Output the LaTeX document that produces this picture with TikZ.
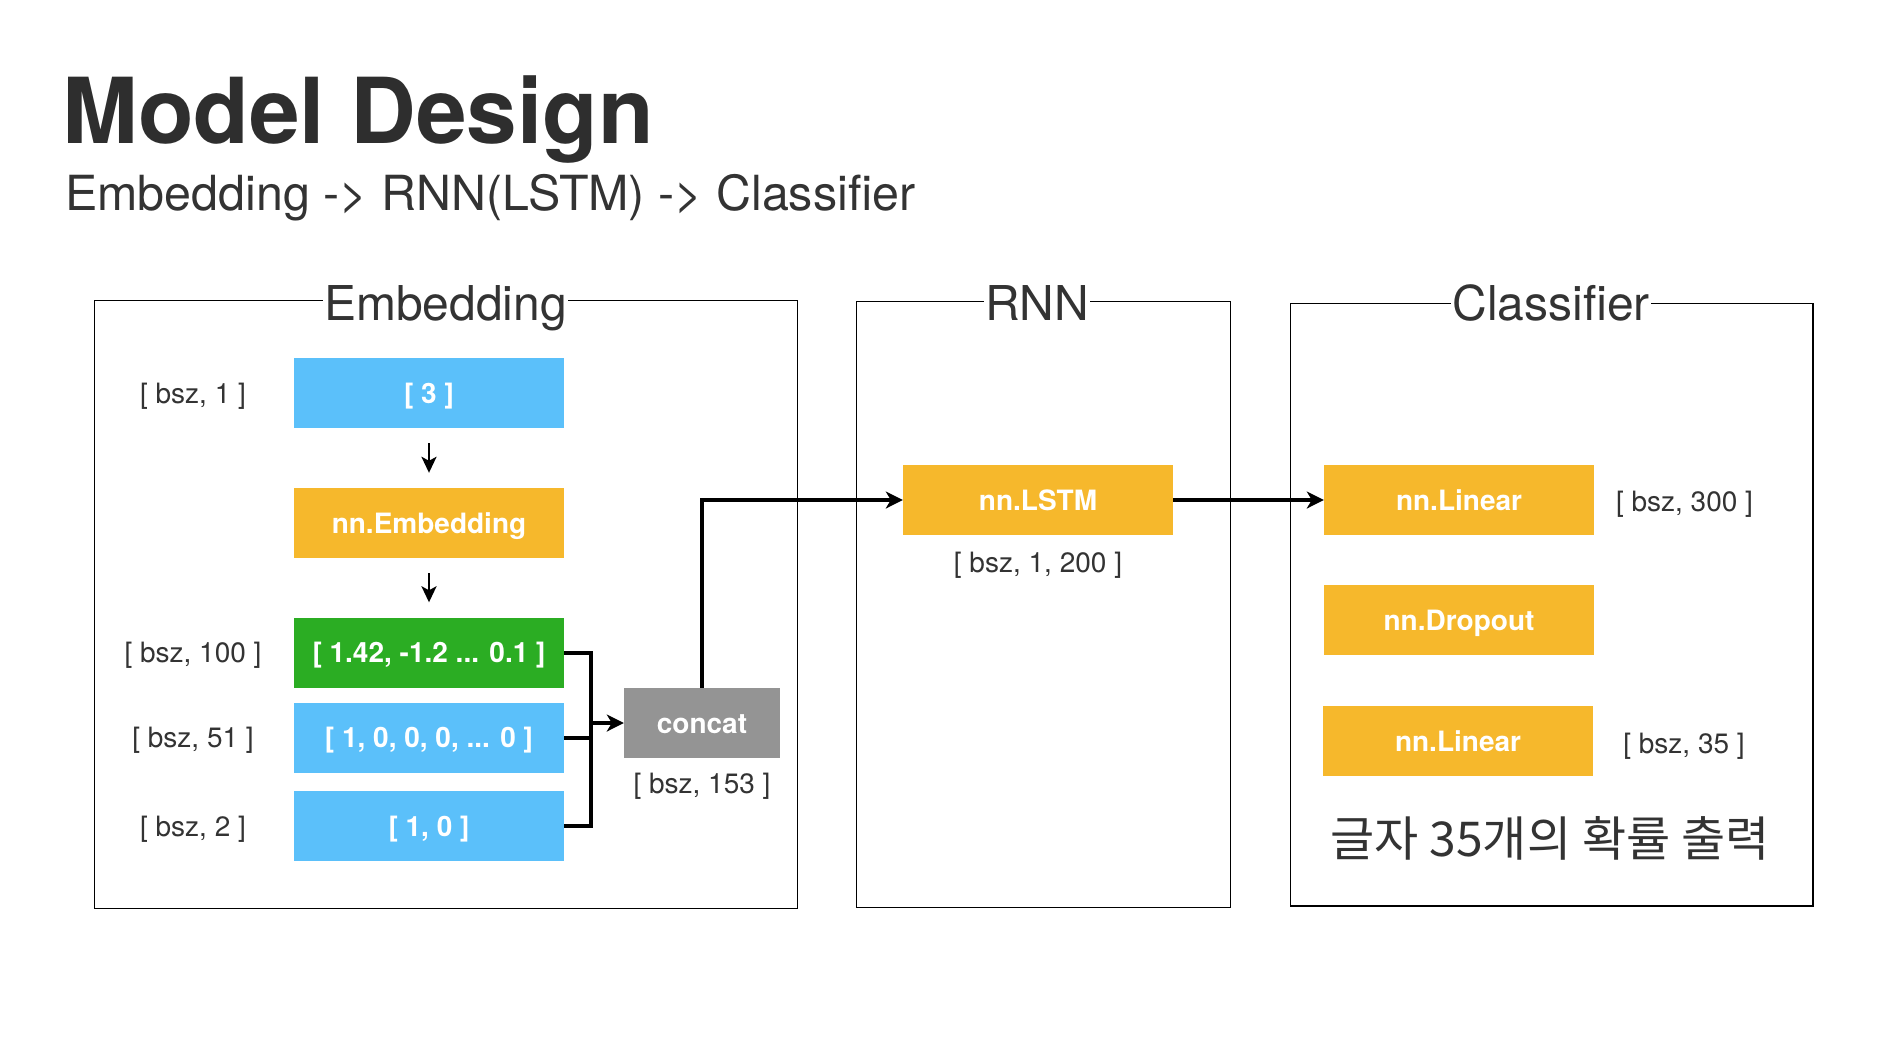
\documentclass[tikz,border=0pt]{standalone}
\usepackage{fontspec}
\setmainfont{TeX Gyre Heros}
\newfontfamily\kofont{Noto Sans CJK KR}
\usetikzlibrary{arrows.meta}
\definecolor{boxblue}{HTML}{5BC0FA}
\definecolor{boxorange}{HTML}{F6B82C}
\definecolor{boxgreen}{HTML}{2BAD23}
\definecolor{boxgrey}{HTML}{949494}
\definecolor{textgrey}{HTML}{333333}
\begin{document}
\begin{tikzpicture}[x=1pt,y=-1pt,
    block/.style={minimum width=270pt,minimum height=70pt,inner sep=0pt,text height=20pt,text depth=0pt,
      text=white,font=\fontsize{28}{28}\selectfont\bfseries},
    dimlabel/.style={text=textgrey,text height=20pt,text depth=0pt,font=\fontsize{28}{28}\selectfont},
    panel/.style={draw=black,line width=1.3pt},
    paneltitle/.style={fill=white,inner xsep=1pt,inner ysep=0pt,anchor=base,text=textgrey,font=\fontsize{48}{48}\selectfont},
    flow/.style={line width=4pt,-{Stealth[length=17pt,width=17pt,inset=5pt]}},
    bracket/.style={line width=4pt},
    steparrow/.style={line width=2.7pt,-{Stealth[length=16pt,width=15pt,inset=4pt]},shorten <=15pt,shorten >=15pt}]
  \useasboundingbox (0,0) rectangle (1892,1042);

  % title
  \node[anchor=base west,inner sep=0pt,text=textgrey!90!black,font=\fontsize{91}{91}\selectfont\bfseries] (title) at (62,143.3) {Model Design};
  \node[anchor=base west,inner sep=0pt,text=textgrey,font=\fontsize{48.4}{48.4}\selectfont] (subtitle) at (65,210.7) {Embedding -> RNN(LSTM) -> Classifier};

  % panels
  \draw[panel] (94.3,300.3) rectangle (797.3,908.3);
  \node[paneltitle] (embtitle) at (445.5,320.5) {Embedding};
  \draw[panel] (856.3,301.7) rectangle (1230.3,907.3);
  \node[paneltitle] (rnntitle) at (1037,320.5) {RNN};
  \draw[panel] (1290.5,303.5) rectangle (1813,906);
  \node[paneltitle] (clftitle) at (1551,320.5) {Classifier};

  \pgfmathsetmacro{\xE}{429}
  \pgfmathsetmacro{\xL}{193}

  % embedding
  \node[block,fill=boxblue] (index) at (\xE,393) {[ 3 ]};
  \node[block,fill=boxorange] (embed) at (\xE,523) {nn.Embedding};
  \node[block,fill=boxgreen] (vec) at (\xE,652.5) {[ 1.42, -1.2 ... 0.1 ]};
  \node[block,fill=boxblue] (onehot) at (\xE,737.5) {[ 1, 0, 0, 0, ... 0 ]};
  \node[block,fill=boxblue] (flag) at (\xE,826) {[ 1, 0 ]};
  \node[block,fill=boxgrey,minimum width=156pt] (concat) at (702,723) {concat};

  \node[dimlabel] (dimindex) at (\xL,393) {[ bsz, 1 ]};
  \node[dimlabel] (dimvec) at (\xL,652.5) {[ bsz, 100 ]};
  \node[dimlabel] (dimonehot) at (\xL,737.5) {[ bsz, 51 ]};
  \node[dimlabel] (dimflag) at (\xL,826) {[ bsz, 2 ]};
  \node[dimlabel] (dimconcat) at (702,783) {[ bsz, 153 ]};

  \draw[steparrow] (index) -- (embed);
  \draw[steparrow] (embed) -- (vec);

  \coordinate (join) at (590.7,723);
  \draw[bracket] (vec.east) -| (join);
  \draw[bracket] (flag.east) -| (join);
  \draw[bracket] (onehot.east) -- (onehot.east -| join);
  \draw[flow] (join) -- (concat.west);

  % rnn
  \node[block,fill=boxorange] (lstm) at (1038,500) {nn.LSTM};
  \node[dimlabel] (dimlstm) at (1038,562) {[ bsz, 1, 200 ]};
  \draw[flow] (concat.north) |- (lstm.west);

  % classifier
  \node[block,fill=boxorange] (linear1) at (1459,500) {nn.Linear};
  \node[block,fill=boxorange] (dropout) at (1459,620) {nn.Dropout};
  \node[block,fill=boxorange] (linear2) at (1458,741) {nn.Linear};
  \node[dimlabel] (dimlinear1) at (1684.5,501) {[ bsz, 300 ]};
  \node[dimlabel] (dimlinear2) at (1684,743) {[ bsz, 35 ]};
  \draw[flow] (lstm.east) -- (linear1.west);

  \node[text=textgrey,font=\kofont\fontsize{48}{48}\selectfont] (output) at (1550,838) {글자 35개의 확률 출력};
\end{tikzpicture}
\end{document}
